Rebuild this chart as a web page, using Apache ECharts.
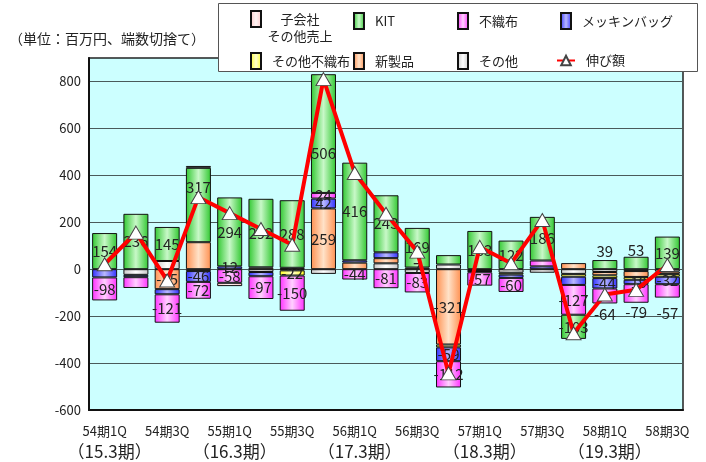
<!DOCTYPE html>
<html>
<head>
<meta charset="utf-8">
<script src="https://cdn.jsdelivr.net/npm/echarts@6/dist/echarts.min.js"></script>
<style>
  html, body { margin: 0; padding: 0; background: #fff; }
  #main { width: 706px; height: 462px; }
</style>
</head>
<body>
<div id="main"></div>
<script>
// 四半期（19本）
const quarters = ["54期1Q", "54期2Q", "54期3Q", "54期4Q", "55期1Q", "55期2Q", "55期3Q", "55期4Q",
  "56期1Q", "56期2Q", "56期3Q", "56期4Q", "57期1Q", "57期2Q", "57期3Q", "57期4Q",
  "58期1Q", "58期2Q", "58期3Q"];
const fiscalYears = ["（15.3期）", "（16.3期）", "（17.3期）", "（18.3期）", "（19.3期）"];
const yTicks = [-600, -400, -200, 0, 200, 400, 600, 800];

// 各セグメント（百万円）
const sonota = [null, -24, 35, -8, null, -12, -5, -20, null, 25, -16, 20, -5, -15, -15, -20, -12, -8, -10];
const shinseihin = [null, null, -85, 115, null, 8, 6, 259, 28, 22, 7, -321, null, null, null, 26, -14, -25, -10];
const sonotaFushokufu = [null, null, null, null, null, null, -22, null, null, null, null, -12, -3, -8, null, -12, -12, -12, -12];
const mekkin = [-35, -10, -22, -46, 12, -18, null, 42, 10, 25, null, -59, -5, -14, 12, -35, -44, -19, -32];
const fushokufu = [-98, -46, -121, -72, -58, -97, -150, 24, -44, -81, -83, -112, -57, -60, 25, -127, -64, -79, -57];
const kit = [154, 236, 145, 317, 294, 292, 288, 506, 416, 243, 169, 40, 163, 122, 186, -103, 39, 53, 139];
const kogaisha = [null, null, null, 8, -14, null, null, null, null, null, null, null, null, null, null, null, null, null, null];
const nobigaku = [21, 156, -48, 307, 239, 171, 104, 810, 410, 236, 75, -444, 95, 25, 210, -273, -108, -88, 18];

const chart = echarts.init(document.getElementById("main"));
const FONT = "'Noto Sans CJK JP', 'Noto Sans', sans-serif";

function grad(edge, mid) {
  return new echarts.graphic.LinearGradient(0, 0, 1, 0, [
    { offset: 0, color: edge },
    { offset: 0.5, color: mid },
    { offset: 1, color: edge }
  ]);
}

// ラベルを出すデータ番号と位置の微調整
const labelShow = {
  "KIT": [0, 1, 2, 3, 4, 5, 6, 7, 8, 9, 10, 12, 13, 14, 15, 16, 17, 18],
  "不織布": [0, 2, 3, 4, 5, 6, 7, 8, 9, 10, 11, 12, 13, 15, 16, 17, 18],
  "メッキンバッグ": [3, 4, 7, 11, 16, 17, 18],
  "新製品": [2, 7, 10, 11],
  "その他不織布": [6]
};
const labelOffset = {
  "KIT": { 3: [0, -18], 7: [0, 20], 16: [0, -13], 17: [0, -13] },
  "不織布": { 16: [0, 18], 17: [0, 19], 18: [0, 22] }
};

function barSeries(name, values, edge, mid) {
  const shown = labelShow[name] || [];
  const offs = labelOffset[name] || {};
  return {
    name: name,
    type: "bar",
    stack: "total",
    barWidth: 25,
    itemStyle: { color: grad(edge, mid), borderColor: "#111", borderWidth: 1 },
    emphasis: { disabled: true },
    data: values.map((v, i) => ({
      value: v,
      label: {
        show: shown.includes(i),
        position: "inside",
        offset: offs[i] || [0, 0],
        color: "#222",
        fontSize: 15,
        fontFamily: FONT
      }
    }))
  };
}

const series = [
  barSeries("その他", sonota, "#c8c8c8", "#ffffff"),
  barSeries("新製品", shinseihin, "#ff9050", "#ffe2c8"),
  barSeries("その他不織布", sonotaFushokufu, "#ffff20", "#ffffd0"),
  barSeries("メッキンバッグ", mekkin, "#3030ff", "#b8b8ff"),
  barSeries("不織布", fushokufu, "#ff30ff", "#ffd0ff"),
  barSeries("KIT", kit, "#30c830", "#c8f8c8"),
  barSeries("子会社その他売上", kogaisha, "#ffc8c8", "#fff4f4"),
  {
    name: "伸び額",
    type: "line",
    data: nobigaku,
    z: 5,
    symbol: "triangle",
    symbolSize: [15, 13],
    lineStyle: { color: "#ff0000", width: 4 },
    itemStyle: { color: "#ffffff", borderColor: "#444", borderWidth: 1 },
    emphasis: { disabled: true }
  }
];

// 凡例（1項目ずつ配置）
const legendItems = [
  { name: "子会社その他売上", left: 250, top: 10 },
  { name: "KIT", left: 353, top: 12 },
  { name: "不織布", left: 457, top: 12 },
  { name: "メッキンバッグ", left: 560, top: 12 },
  { name: "その他不織布", left: 250, top: 52 },
  { name: "新製品", left: 353, top: 52 },
  { name: "その他", left: 457, top: 52 },
  { name: "伸び額", left: 556, top: 54 }
];

const legends = legendItems.map(it => {
  const lg = {
    data: [it.name],
    left: it.left,
    top: it.top,
    padding: 0,
    z: 10,
    selectedMode: false,
    icon: "rect",
    itemWidth: 10,
    itemHeight: 16,
    textStyle: { fontSize: 13, color: "#222", fontFamily: FONT, padding: [0, 0, 0, 6] }
  };
  if (it.name === "子会社その他売上") {
    lg.formatter = () => "{a|子会社}\n{a|その他売上}";
    lg.textStyle = {
      fontFamily: FONT, color: "#222", padding: [17, 0, 0, 4],
      rich: { a: { fontSize: 13, lineHeight: 17, width: 60, align: "center", fontFamily: FONT, color: "#222" } }
    };
  }
  if (it.name === "伸び額") {
    delete lg.icon;
    lg.itemWidth = 18;
    lg.itemHeight = 12;
  }
  return lg;
});

const option = {
  animation: false,
  backgroundColor: "#ffffff",
  title: {
    text: "（単位：百万円、端数切捨て）",
    left: 4,
    top: 27,
    textStyle: { fontSize: 14, fontWeight: "normal", color: "#222", fontFamily: FONT }
  },
  graphic: [
    {
      type: "rect",
      left: 218,
      top: 3,
      z: 8,
      shape: { width: 479, height: 68 },
      style: { fill: "#ffffff", stroke: "#555", lineWidth: 1 }
    }
  ],
  legend: legends,
  grid: {
    left: 89,
    right: 23,
    top: 58,
    bottom: 52,
    show: true,
    backgroundColor: "#ccffff",
    borderColor: "#222",
    borderWidth: 1.5
  },
  xAxis: [
    {
      type: "category",
      data: quarters,
      axisLine: { onZero: false, lineStyle: { color: "#111", width: 2 } },
      axisTick: { alignWithLabel: true, inside: true, interval: 0, length: 5, lineStyle: { color: "#111" } },
      axisLabel: {
        interval: 1,
        showMinLabel: true,
        showMaxLabel: true,
        hideOverlap: false,
        margin: 15,
        fontSize: 13,
        color: "#222",
        fontFamily: FONT
      }
    },
    {
      // 年度表示（2段目）
      type: "category",
      data: quarters,
      position: "bottom",
      axisLine: { show: false },
      axisTick: { show: false },
      splitLine: { show: false },
      axisLabel: {
        interval: 3,
        margin: 33,
        fontSize: 17,
        color: "#222",
        fontFamily: FONT,
        padding: [0, 0, 0, 10],
        formatter: (v, i) => fiscalYears[i / 4] || ""
      }
    }
  ],
  yAxis: {
    type: "value",
    min: yTicks[0],
    max: 900,
    interval: 200,
    axisLine: { show: true, lineStyle: { color: "#111", width: 2 } },
    axisTick: { show: false },
    axisLabel: {
      margin: 8,
      fontSize: 13,
      color: "#222",
      fontFamily: FONT,
      formatter: v => (yTicks.includes(v) ? String(v) : "")
    },
    splitLine: { lineStyle: { color: "#4a5a5a", width: 1 } }
  },
  series: series
};

chart.setOption(option);
</script>
</body>
</html>
